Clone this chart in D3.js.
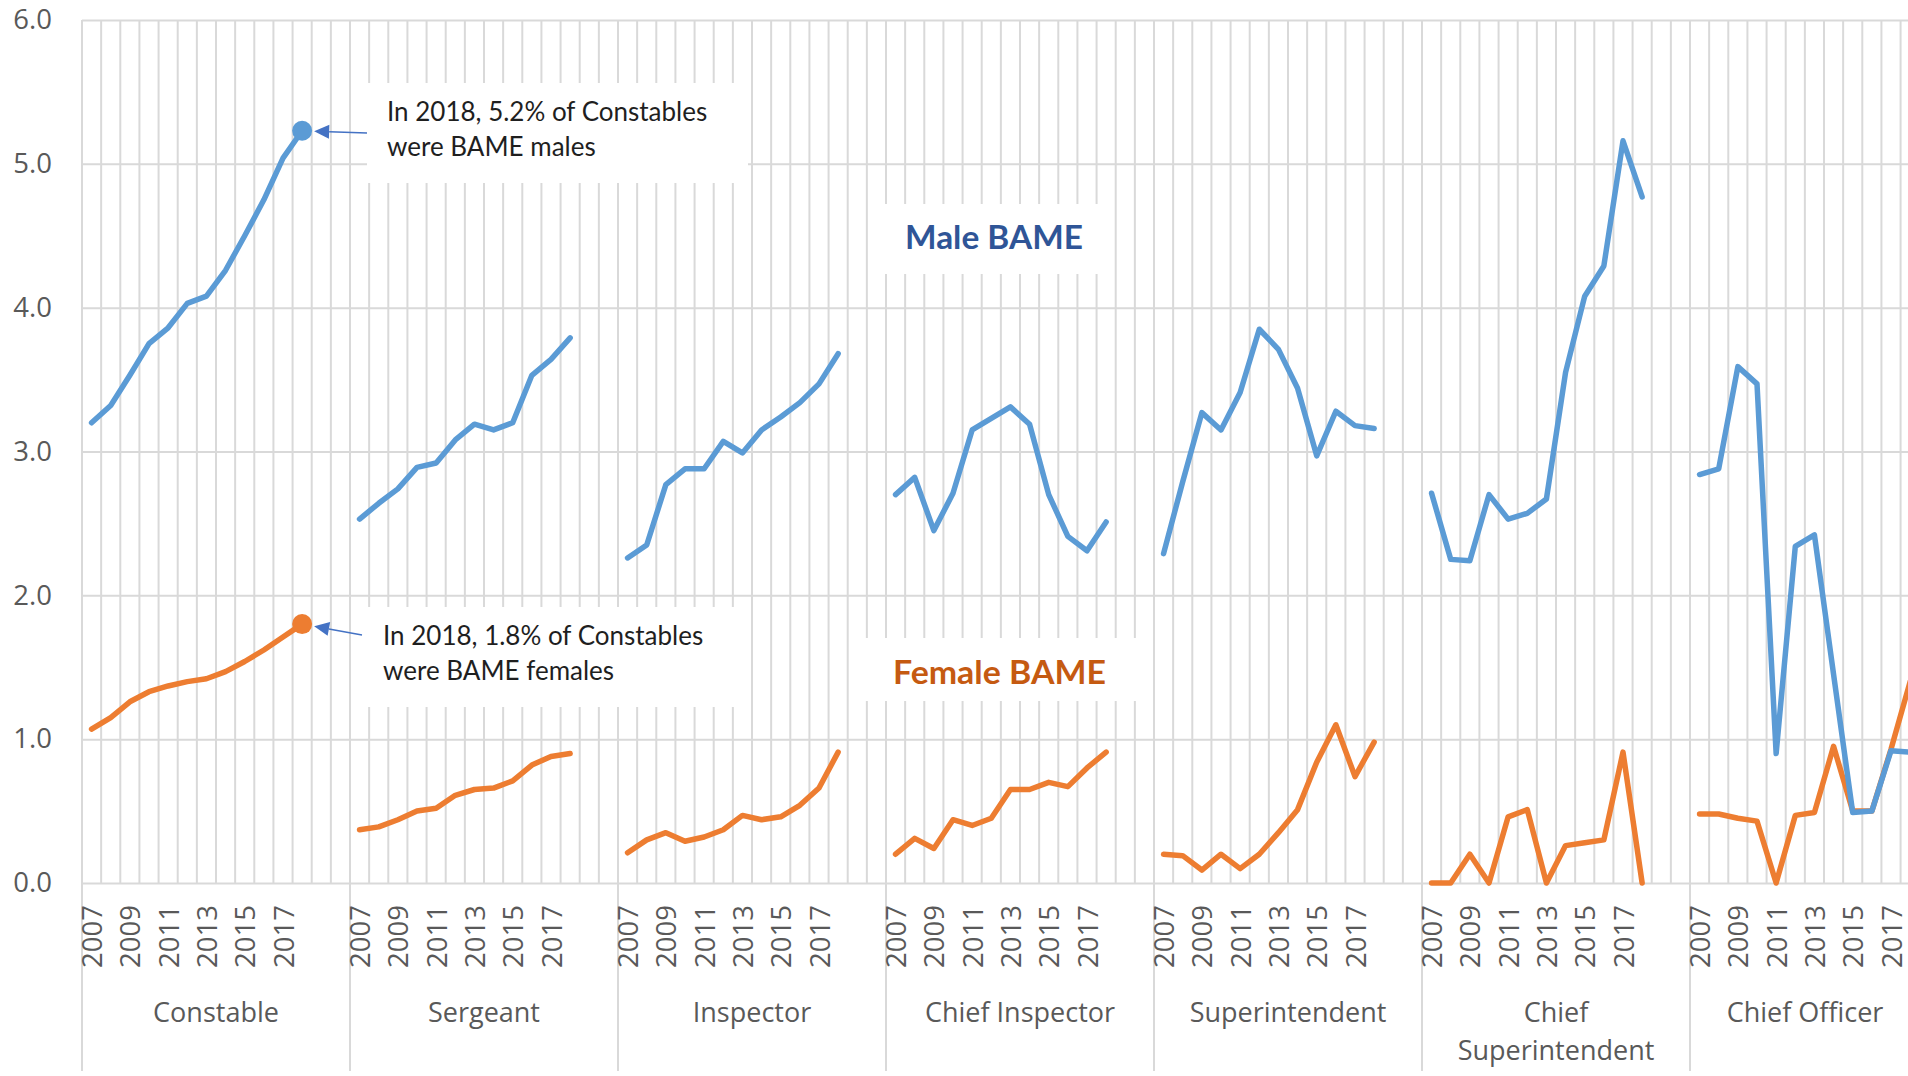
<!DOCTYPE html>
<meta charset="utf-8">
<title>BAME officers by rank</title>
<style>
  body { margin: 0; background: #fff; }
  .grid line { stroke: #d9d9d9; stroke-width: 2px; }
  .axis text { fill: #595959; font-family: "Open Sans", sans-serif; font-size: 27.5px; }
  .rank { fill: #595959; font-family: "Open Sans", sans-serif; font-size: 27px; text-anchor: middle; }
  .series { fill: none; stroke-width: 5.5px; stroke-linejoin: round; stroke-linecap: round; }
  .note { font-family: Lato, sans-serif; font-size: 26px; fill: #1f1f1f; }
  .tag { font-family: Lato, sans-serif; font-size: 32px; font-weight: bold; }
</style>

<body>
  <script src="https://d3js.org/d3.v7.min.js"></script>
  <script>
    var width = 1908,
      height = 1076;

    var ranks = ["Constable", "Sergeant", "Inspector", "Chief Inspector", "Superintendent", "Chief Superintendent", "Chief Officer"];
    var years = ["2007", "2008", "2009", "2010", "2011", "2012", "2013", "2014", "2015", "2016", "2017", "2018"];
    var yTicks = [0, 1, 2, 3, 4, 5, 6];

    // % of officers who are BAME males, 2007-2018
    var maleConstable = [3.20, 3.32, 3.53, 3.75, 3.86, 4.03, 4.08, 4.26, 4.50, 4.75, 5.04, 5.23];
    var maleSergeant = [2.53, 2.64, 2.74, 2.89, 2.92, 3.08, 3.19, 3.15, 3.20, 3.53, 3.64, 3.79];
    var maleInspector = [2.26, 2.35, 2.77, 2.88, 2.88, 3.07, 2.99, 3.15, 3.24, 3.34, 3.47, 3.68];
    var maleChiefInsp = [2.70, 2.82, 2.45, 2.71, 3.15, 3.23, 3.31, 3.19, 2.70, 2.41, 2.31, 2.51];
    var maleSuper = [2.29, 2.79, 3.27, 3.15, 3.41, 3.85, 3.71, 3.44, 2.97, 3.28, 3.18, 3.16];
    var maleChiefSuper = [2.71, 2.25, 2.24, 2.70, 2.53, 2.57, 2.67, 3.55, 4.08, 4.29, 5.16, 4.77];
    var maleChiefOff = [2.84, 2.88, 3.59, 3.47, 0.90, 2.34, 2.42, 1.45, 0.49, 0.50, 0.92, 0.91];

    // % of officers who are BAME females, 2007-2018
    var femaleConstable = [1.07, 1.15, 1.26, 1.33, 1.37, 1.40, 1.42, 1.47, 1.54, 1.62, 1.71, 1.80];
    var femaleSergeant = [0.37, 0.39, 0.44, 0.50, 0.52, 0.61, 0.65, 0.66, 0.71, 0.82, 0.88, 0.90];
    var femaleInspector = [0.21, 0.30, 0.35, 0.29, 0.32, 0.37, 0.47, 0.44, 0.46, 0.54, 0.66, 0.91];
    var femaleChiefInsp = [0.20, 0.31, 0.24, 0.44, 0.40, 0.45, 0.65, 0.65, 0.70, 0.67, 0.80, 0.91];
    var femaleSuper = [0.20, 0.19, 0.09, 0.20, 0.10, 0.20, 0.35, 0.51, 0.84, 1.10, 0.74, 0.98];
    var femaleChiefSuper = [0.00, 0.00, 0.20, 0.00, 0.46, 0.51, 0.00, 0.26, 0.28, 0.30, 0.91, 0.00];
    var femaleChiefOff = [0.48, 0.48, 0.45, 0.43, 0.00, 0.47, 0.49, 0.95, 0.50, 0.50, 0.93, 1.40];

    var male = [maleConstable, maleSergeant, maleInspector, maleChiefInsp, maleSuper, maleChiefSuper, maleChiefOff];
    var female = [femaleConstable, femaleSergeant, femaleInspector, femaleChiefInsp, femaleSuper, femaleChiefSuper, femaleChiefOff];

    var plotLeft = 82, plotTop = 20, plotBottom = 883, groupW = 268;
    var plotRight = plotLeft + ranks.length * groupW;
    var slots = d3.range(years.length + 2); // two empty slots after 2018 in each rank

    var svg = d3.select("body").append("svg")
      .attr("width", width)
      .attr("height", height);

    var x0 = d3.scaleBand().domain(ranks).range([plotLeft, plotRight]);
    var x1 = d3.scaleBand().domain(slots).range([0, x0.bandwidth()]);
    var y = d3.scaleLinear().domain([0, 6]).range([plotBottom, plotTop]);

    function xPos(g, i) {
      return x0(ranks[g]) + x1(i) + x1.bandwidth() / 2;
    }

    // vertical gridlines, one at every slot boundary
    var grid = svg.append("g").attr("class", "grid");
    ranks.forEach(function(r) {
      slots.forEach(function(i) {
        grid.append("line")
          .attr("x1", x0(r) + x1(i)).attr("x2", x0(r) + x1(i))
          .attr("y1", y(6)).attr("y2", i == 0 ? 1071 : y(0));
      });
    });

    // horizontal gridlines + y labels
    var yAxis = svg.append("g")
      .attr("class", "axis grid")
      .attr("transform", "translate(" + plotLeft + ",0)")
      .call(d3.axisLeft(y).tickValues(yTicks).tickFormat(d3.format(".1f"))
        .tickSize(-(plotRight - plotLeft)).tickPadding(30));
    yAxis.select(".domain").remove();
    yAxis.selectAll("text").attr("text-anchor", "end");

    // year labels, every other year
    ranks.forEach(function(r) {
      var ax = svg.append("g")
        .attr("class", "axis")
        .attr("transform", "translate(" + x0(r) + "," + plotBottom + ")")
        .call(d3.axisBottom(x1).tickValues(d3.range(0, years.length, 2))
          .tickFormat(function(i) { return years[i]; }).tickSize(0));
      ax.select(".domain").remove();
      ax.selectAll("text")
        .attr("transform", "rotate(-90)")
        .attr("text-anchor", "end")
        .attr("x", -22).attr("y", 1).attr("dy", "0.35em");
    });

    // rank labels
    ranks.forEach(function(r, g) {
      var x = x0(r) + x0.bandwidth() / 2;
      if (g == ranks.length - 1) x = (x0(r) + width + 12) / 2;
      var t = svg.append("text").attr("class", "rank").attr("x", x).attr("y", 1022);
      if (r == "Chief Superintendent") {
        t.append("tspan").attr("x", x).text("Chief");
        t.append("tspan").attr("x", x).attr("dy", 38).text("Superintendent");
      } else {
        t.text(r);
      }
    });

    // white text boxes sitting on the grid
    var boxes = [
      [367, 83, 381, 100],
      [362, 607, 383, 100],
      [875, 204, 230, 70],
      [860, 638, 290, 63]
    ];
    svg.selectAll(".box").data(boxes).enter().append("rect")
      .attr("class", "box")
      .attr("x", d => d[0]).attr("y", d => d[1])
      .attr("width", d => d[2]).attr("height", d => d[3])
      .attr("fill", "#fff");

    var line = d3.line()
      .x(function(d, i) { return x1(i) + x1.bandwidth() / 2; })
      .y(function(d) { return y(d); });

    function drawSeries(data, colour) {
      svg.append("g").selectAll("path")
        .data(data).enter().append("path")
        .attr("class", "series")
        .attr("transform", (d, g) => "translate(" + x0(ranks[g]) + ",0)")
        .attr("stroke", colour)
        .attr("d", line);
    }
    drawSeries(female, "#ed7d31");
    drawSeries(male, "#5b9bd5");

    // callouts on the 2018 constable values
    var last = years.length - 1;
    var callouts = [
      { v: maleConstable[last], colour: "#5b9bd5", tx: 367, ty: 133, lines: ["In 2018, 5.2% of Constables", "were BAME males"], x: 387, y: 121 },
      { v: femaleConstable[last], colour: "#ed7d31", tx: 362, ty: 635, lines: ["In 2018, 1.8% of Constables", "were BAME females"], x: 383, y: 645 }
    ];

    callouts.forEach(function(c) {
      var cx = xPos(0, last), cy = y(c.v);
      svg.append("circle").attr("cx", cx).attr("cy", cy).attr("r", 10).attr("fill", c.colour);

      var tipX = cx + 12, tipY = cy + (c.ty - cy) * 0.2;
      var ang = Math.atan2(tipY - c.ty, tipX - c.tx);
      var len = 15, half = 7;
      var bx = tipX - len * Math.cos(ang), by = tipY - len * Math.sin(ang);
      svg.append("line")
        .attr("x1", c.tx).attr("y1", c.ty).attr("x2", bx).attr("y2", by)
        .attr("stroke", "#4472c4").attr("stroke-width", 1.5);
      svg.append("path")
        .attr("d", "M" + tipX + "," + tipY +
          "L" + (bx + half * Math.sin(ang)) + "," + (by - half * Math.cos(ang)) +
          "L" + (bx - half * Math.sin(ang)) + "," + (by + half * Math.cos(ang)) + "Z")
        .attr("fill", "#4472c4");

      c.lines.forEach(function(s, k) {
        svg.append("text").attr("class", "note")
          .attr("x", c.x).attr("y", c.y + k * 35)
          .text(s);
      });
    });

    svg.append("text").attr("class", "tag")
      .attr("x", 905).attr("y", 249).attr("fill", "#2f5597")
      .attr("textLength", 178).attr("lengthAdjust", "spacingAndGlyphs")
      .text("Male BAME");
    svg.append("text").attr("class", "tag")
      .attr("x", 893).attr("y", 684).attr("fill", "#c55a11")
      .attr("textLength", 213).attr("lengthAdjust", "spacingAndGlyphs")
      .text("Female BAME");
  </script>
</body>

</html>
